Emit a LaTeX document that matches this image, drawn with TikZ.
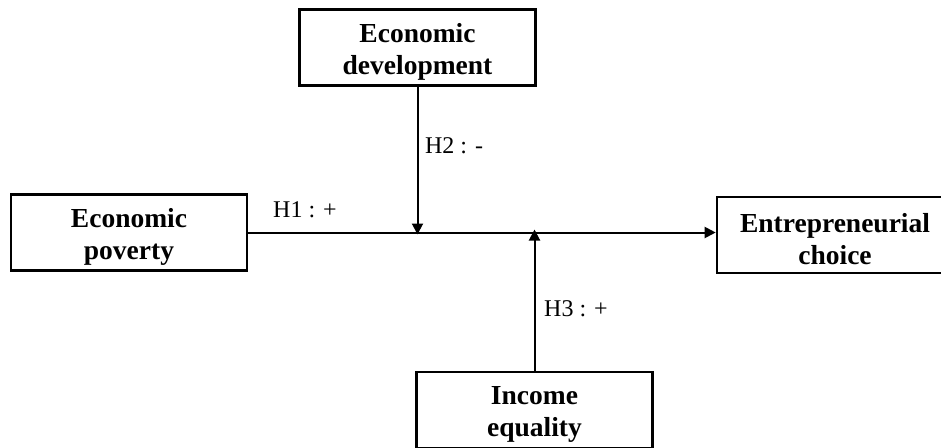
\documentclass[tikz,border=0pt]{standalone}
\usepackage{fontspec}
\setmainfont{Liberation Serif}
\usetikzlibrary{arrows.meta}
\begin{document}
\begin{tikzpicture}[x=1pt,y=-1pt,
  varbox/.style={draw=black, line width=2.6pt, minimum width=236pt, minimum height=76pt, inner sep=0pt},
  boxtext/.style={inner sep=0pt, yshift=-4pt, align=center, font=\fontsize{27.5}{32}\selectfont\bfseries},
  hyp/.style={inner sep=0pt, font=\fontsize{24}{28}\selectfont},
  link/.style={draw=black, line width=2pt, -{Triangle[length=11pt,width=11pt]}}]
\useasboundingbox (0,0) rectangle (941,447);
\clip (0,0) rectangle (941,447);
\node[varbox, label={[boxtext]center:Economic\\development}] (dev) at (417.5,47.5) {};
\node[varbox, label={[boxtext]center:Economic\\poverty}] (pov) at (129,232.5) {};
\node[varbox, label={[boxtext]center:Entrepreneurial\\choice}] (ent) at (835,235) {};
\node[varbox, label={[boxtext]center:Income\\equality}] (inc) at (534.5,410) {};
\draw[link] (pov.east) -- (pov.east -| ent.west);
\draw[link] (dev.south) -- ([yshift=-2pt]dev.south |- pov.east);
\draw[link] (inc.north) -- ([yshift=3pt]inc.north |- pov.east);
\node[hyp] (h1) at (305,210) {H1 : +};
\node[hyp] (h2) at (454,146) {H2 : -};
\node[hyp] (h3) at (576,309) {H3 : +};
\end{tikzpicture}
\end{document}
